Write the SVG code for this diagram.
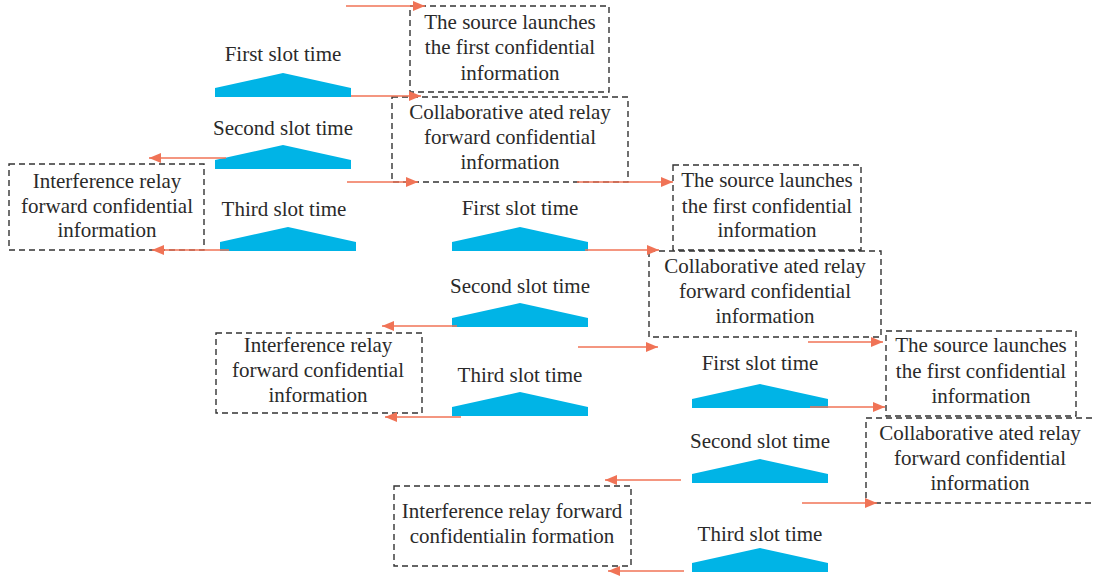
<svg xmlns="http://www.w3.org/2000/svg" xmlns:xlink="http://www.w3.org/1999/xlink" width="1094" height="578" viewBox="0 0 1094 578">
  <style>
    .box { fill: none; stroke: #333333; stroke-width: 1.4; stroke-dasharray: 6 4; }
    .txt { font-family: "Liberation Serif", "Times New Roman", serif; font-size: 21px; fill: #2a2a2a; text-anchor: middle; }
    .slot { fill: #00B4E6; }
    .arr { stroke: #F07356; stroke-width: 1.6; fill: none; marker-end: url(#head); }
  </style>
  <defs>
    <marker id="head" markerUnits="userSpaceOnUse" markerWidth="12" markerHeight="12" viewBox="0 0 12 12" refX="12" refY="6" orient="auto">
      <path d="M0,1 L12,6 L0,11 Z" fill="#F07356"/>
    </marker>
    <!-- slot marker: pentagon anchored at its bottom-left corner -->
    <path id="slotShape" class="slot" d="M0,0 L0,-9 L68,-24 L136,-9 L136,0 Z"/>
  </defs>

  <rect width="1094" height="578" fill="#ffffff"/>

  <!-- time-slot markers and labels -->
  <g id="slots1">
    <text class="txt" x="283" y="61">First slot time</text>
    <use xlink:href="#slotShape" transform="translate(215,97)"/>
    <text class="txt" x="283" y="135">Second slot time</text>
    <use xlink:href="#slotShape" transform="translate(215,169)"/>
    <text class="txt" x="284" y="216">Third slot time</text>
    <use xlink:href="#slotShape" transform="translate(220,251)"/>
  </g>
  <g id="slots2">
    <text class="txt" x="520" y="215">First slot time</text>
    <use xlink:href="#slotShape" transform="translate(452,251)"/>
    <text class="txt" x="520" y="293">Second slot time</text>
    <use xlink:href="#slotShape" transform="translate(452,327)"/>
    <text class="txt" x="520" y="382">Third slot time</text>
    <use xlink:href="#slotShape" transform="translate(452,416)"/>
  </g>
  <g id="slots3">
    <text class="txt" x="760" y="370">First slot time</text>
    <use xlink:href="#slotShape" transform="translate(692,408)"/>
    <text class="txt" x="760" y="448">Second slot time</text>
    <use xlink:href="#slotShape" transform="translate(692,483)"/>
    <text class="txt" x="760" y="541">Third slot time</text>
    <use xlink:href="#slotShape" transform="translate(692,572)"/>
  </g>

  <!-- dashed information boxes -->
  <g id="source1">
    <rect class="box" x="410" y="6" width="199" height="86"/>
    <text class="txt" x="510" y="29">The source launches</text>
    <text class="txt" x="510" y="54">the first confidential</text>
    <text class="txt" x="510" y="80">information</text>
  </g>
  <g id="coop1">
    <rect class="box" x="392" y="97" width="236" height="85"/>
    <text class="txt" x="510" y="119">Collaborative ated relay</text>
    <text class="txt" x="510" y="144">forward confidential</text>
    <text class="txt" x="510" y="169">information</text>
  </g>
  <g id="jam1">
    <rect class="box" x="9" y="164" width="195" height="86"/>
    <text class="txt" x="107" y="188">Interference relay</text>
    <text class="txt" x="107" y="213">forward confidential</text>
    <text class="txt" x="107" y="237">information</text>
  </g>
  <g id="source2">
    <rect class="box" x="673" y="165" width="188" height="85"/>
    <text class="txt" x="767" y="187">The source launches</text>
    <text class="txt" x="767" y="213">the first confidential</text>
    <text class="txt" x="767" y="237">information</text>
  </g>
  <g id="coop2">
    <rect class="box" x="649" y="251" width="232" height="86"/>
    <text class="txt" x="765" y="273">Collaborative ated relay</text>
    <text class="txt" x="765" y="298">forward confidential</text>
    <text class="txt" x="765" y="323">information</text>
  </g>
  <g id="jam2">
    <rect class="box" x="216" y="333" width="206" height="80"/>
    <text class="txt" x="318" y="352">Interference relay</text>
    <text class="txt" x="318" y="377">forward confidential</text>
    <text class="txt" x="318" y="402">information</text>
  </g>
  <g id="source3">
    <rect class="box" x="886" y="331" width="190" height="85"/>
    <text class="txt" x="981" y="352">The source launches</text>
    <text class="txt" x="981" y="378">the first confidential</text>
    <text class="txt" x="981" y="403">information</text>
  </g>
  <g id="coop3">
    <rect class="box" x="866" y="418" width="240" height="85"/>
    <text class="txt" x="980" y="440">Collaborative ated relay</text>
    <text class="txt" x="980" y="465">forward confidential</text>
    <text class="txt" x="980" y="490">information</text>
  </g>
  <g id="jam3">
    <rect class="box" x="394" y="486" width="237" height="80"/>
    <text class="txt" x="512" y="518">Interference relay forward</text>
    <text class="txt" x="512" y="543">confidentialin formation</text>
  </g>

  <!-- connectors -->
  <g id="connectors">
    <line class="arr" x1="346" y1="6" x2="425" y2="6"/>
    <line class="arr" x1="351" y1="96" x2="421" y2="96"/>
    <line class="arr" x1="226" y1="158" x2="149" y2="158"/>
    <line class="arr" x1="347" y1="182" x2="418" y2="182"/>
    <line class="arr" x1="229" y1="250" x2="152" y2="250"/>
    <line class="arr" x1="577" y1="182" x2="673" y2="182"/>
    <line class="arr" x1="585" y1="250" x2="659" y2="250"/>
    <line class="arr" x1="457" y1="326" x2="382" y2="326"/>
    <line class="arr" x1="578" y1="347" x2="658" y2="347"/>
    <line class="arr" x1="808" y1="342" x2="883" y2="342"/>
    <line class="arr" x1="461" y1="417" x2="385" y2="417"/>
    <line class="arr" x1="810" y1="407" x2="885" y2="407"/>
    <line class="arr" x1="681" y1="480" x2="605" y2="480"/>
    <line class="arr" x1="802" y1="503" x2="877" y2="503"/>
    <line class="arr" x1="684" y1="571" x2="608" y2="571"/>
  </g>
</svg>
